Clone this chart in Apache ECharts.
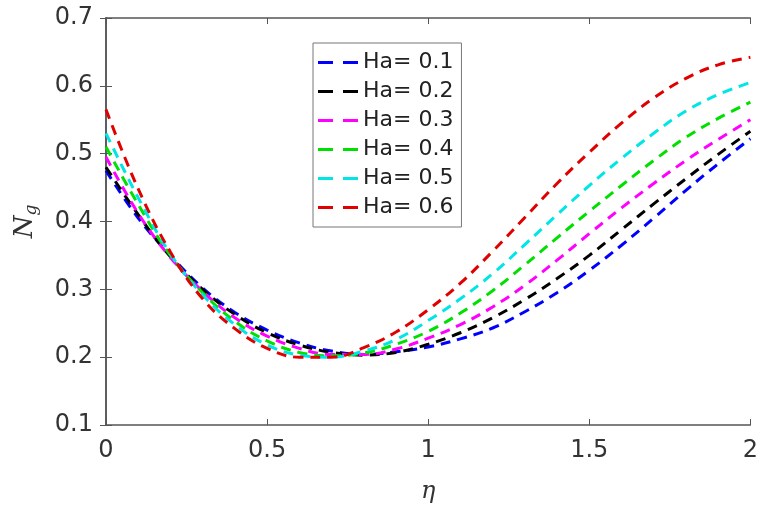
<!DOCTYPE html>
<html>
<head>
<meta charset="utf-8">
<script src="https://cdn.jsdelivr.net/npm/echarts@6/dist/echarts.min.js"></script>
<style>
  html, body { margin: 0; padding: 0; background: #fff; }
  #chart { width: 761px; height: 509px; }
</style>
</head>
<body>
<div id="chart"></div>
<script>
// eta positions
let eta = [0, 0.1, 0.2, 0.3, 0.4, 0.5, 0.6, 0.7, 0.8, 0.9, 1.0,
           1.1, 1.2, 1.3, 1.4, 1.5, 1.6, 1.7, 1.8, 1.9, 2.0];

let names = ['Ha= 0.1', 'Ha= 0.2', 'Ha= 0.3', 'Ha= 0.4', 'Ha= 0.5', 'Ha= 0.6'];
let colors = ['#0000ff', '#000000', '#ff00ff', '#00e000', '#00e5e5', '#e00000'];

// Ng values
let ha01 = [0.475, 0.405, 0.350, 0.302, 0.266, 0.240, 0.221, 0.209, 0.204, 0.208, 0.215,
            0.227, 0.243, 0.267, 0.295, 0.328, 0.365, 0.405, 0.446, 0.485, 0.522];
let ha02 = [0.480, 0.410, 0.348, 0.300, 0.263, 0.236, 0.218, 0.207, 0.203, 0.207, 0.219,
            0.236, 0.258, 0.285, 0.316, 0.350, 0.388, 0.426, 0.463, 0.499, 0.533];
let ha03 = [0.495, 0.412, 0.347, 0.297, 0.258, 0.231, 0.213, 0.204, 0.204, 0.212, 0.228,
            0.248, 0.274, 0.306, 0.343, 0.382, 0.420, 0.456, 0.490, 0.521, 0.550];
let ha04 = [0.510, 0.425, 0.350, 0.295, 0.253, 0.224, 0.207, 0.202, 0.206, 0.219, 0.238,
            0.265, 0.298, 0.336, 0.376, 0.415, 0.453, 0.490, 0.524, 0.552, 0.576];
let ha05 = [0.530, 0.435, 0.352, 0.292, 0.248, 0.218, 0.203, 0.200, 0.209, 0.226, 0.254,
            0.286, 0.323, 0.366, 0.410, 0.453, 0.493, 0.530, 0.563, 0.587, 0.605];
let ha06 = [0.565, 0.448, 0.355, 0.286, 0.242, 0.213, 0.200, 0.200, 0.214, 0.237, 0.270,
            0.309, 0.356, 0.406, 0.456, 0.502, 0.545, 0.582, 0.611, 0.631, 0.642];

let allData = [ha01, ha02, ha03, ha04, ha05, ha06];

let myChart = echarts.init(document.getElementById('chart'));

let axisColor = '#555';
let labelFont = {
    fontFamily: 'DejaVu Sans',
    fontSize: 24,
    color: '#333'
};

let option = {
    animation: false,
    grid: {
        left: 106,
        right: 9,
        top: 18,
        bottom: 76
    },
    legend: {
        orient: 'vertical',
        left: 313,
        top: 43,
        padding: [5, 8, 5, 5],
        itemGap: 0,
        itemWidth: 40,
        itemHeight: 3,
        // two short dashes like the plotted lines
        icon: 'path://M0,0 L15,0 L15,3 L0,3 Z M25,0 L40,0 L40,3 L25,3 Z',
        backgroundColor: '#fff',
        borderColor: '#777',
        borderWidth: 1,
        borderRadius: 0,
        data: names,
        textStyle: {
            fontFamily: 'DejaVu Sans',
            fontSize: 22,
            color: '#222',
            lineHeight: 29
        }
    },
    xAxis: [
        {
            type: 'value',
            min: 0,
            max: 2,
            interval: 0.5,
            name: 'η',
            nameLocation: 'middle',
            nameGap: 55,
            nameTextStyle: {
                fontFamily: 'DejaVu Serif',
                fontStyle: 'italic',
                fontSize: 24,
                color: '#333'
            },
            axisLine: { lineStyle: { color: axisColor, width: 1.5 } },
            axisTick: { inside: true, length: 6, lineStyle: { color: axisColor } },
            axisLabel: Object.assign({ margin: 14 }, labelFont),
            splitLine: { show: false }
        },
        {
            type: 'value',
            position: 'top',
            min: 0,
            max: 2,
            interval: 0.5,
            axisLine: { show: true, lineStyle: { color: axisColor, width: 1.5 } },
            axisTick: { inside: true, length: 6, lineStyle: { color: axisColor } },
            axisLabel: { show: false },
            splitLine: { show: false }
        }
    ],
    yAxis: [
        {
            type: 'value',
            min: 0.1,
            max: 0.7,
            interval: 0.1,
            name: '{N|N}{g|g}',
            nameLocation: 'middle',
            nameGap: 66,
            nameTextStyle: {
                rich: {
                    N: {
                        fontFamily: 'DejaVu Serif',
                        fontStyle: 'italic',
                        fontSize: 26,
                        color: '#333'
                    },
                    g: {
                        fontFamily: 'DejaVu Serif',
                        fontStyle: 'italic',
                        fontSize: 17,
                        color: '#333',
                        padding: [12, 0, 0, 0]
                    }
                }
            },
            axisLine: { show: true, lineStyle: { color: axisColor, width: 1.5 } },
            axisTick: { show: true, inside: true, length: 6, lineStyle: { color: axisColor } },
            axisLabel: Object.assign({
                margin: 13,
                formatter: function (v) { return (+v.toFixed(1)).toString(); }
            }, labelFont),
            splitLine: { show: false }
        },
        {
            type: 'value',
            position: 'right',
            min: 0.1,
            max: 0.7,
            interval: 0.1,
            axisLine: { show: true, lineStyle: { color: axisColor, width: 1.5 } },
            axisTick: { show: true, inside: true, length: 6, lineStyle: { color: axisColor } },
            axisLabel: { show: false },
            splitLine: { show: false }
        }
    ],
    series: allData.map(function (vals, i) {
        return {
            name: names[i],
            type: 'line',
            xAxisIndex: 0,
            yAxisIndex: 0,
            smooth: 0.4,
            symbol: 'none',
            color: colors[i],
            lineStyle: {
                color: colors[i],
                width: 3,
                type: [10, 7]
            },
            data: vals.map(function (v, k) {
                return [eta[k], v];
            })
        };
    })
};

myChart.setOption(option);
window.addEventListener('resize', () => {
    myChart.resize();
});
</script>
</body>
</html>
